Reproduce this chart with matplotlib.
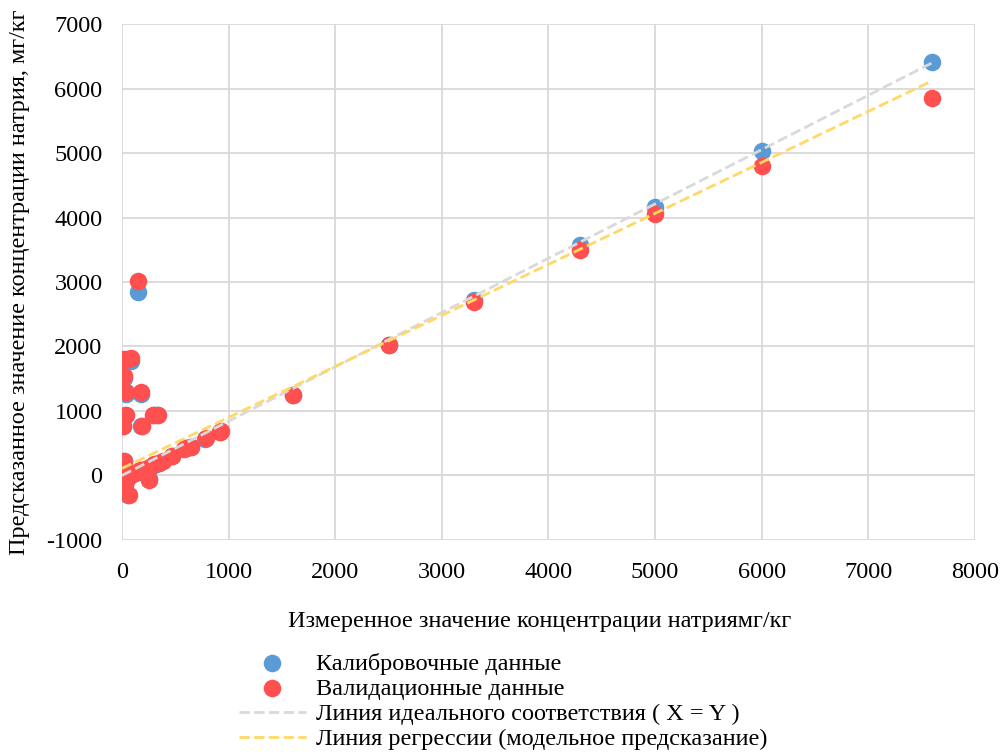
import matplotlib.pyplot as plt

plt.rcParams['font.family'] = ['Liberation Serif', 'DejaVu Serif']
plt.rcParams['axes.unicode_minus'] = False

# calibration set (measured, predicted), mg/kg
calib_x = [7600, 6000, 5000, 4300, 3300, 2500, 1600, 150, 20, 80, 15, 40, 180, 30, 10,
           180, 300, 330, 920, 780, 650, 600, 470, 350, 300, 250, 200, 150, 100, 60,
           30, 10, 20, 60, 250, 20, 10]
calib_y = [6410, 5030, 4170, 3570, 2720, 2020, 1250, 2840, 1760, 1770, 1510, 1270, 1270,
           940, 770, 770, 930, 930, 680, 570, 440, 420, 300, 200, 160, 120, 80, 50, 20,
           -20, -80, -150, -200, -300, -60, 230, 50]

# validation set
valid_x = [7600, 6000, 5000, 4300, 3300, 2500, 1600, 150, 20, 60, 85, 15, 40, 180, 40,
           10, 190, 290, 340, 920, 930, 790, 650, 600, 580, 470, 380, 350, 300, 260,
           240, 200, 170, 140, 110, 90, 60, 40, 20, 10, 5, 15, 30, 70, 250, 20, 10, 5,
           25, 50, 0, 5]
valid_y = [5850, 4800, 4050, 3490, 2690, 2020, 1250, 3010, 1800, 1810, 1820, 1550, 1290,
           1290, 940, 770, 770, 930, 930, 680, 690, 574, 440, 430, 410, 300, 220, 190,
           170, 130, 110, 90, 80, 60, 40, 20, 10, -10, -40, -90, -130, -200, -170, -310,
           -70, 230, 80, 20, -20, -60, -150, -100]

# reference line and regression fit of predicted on measured
ideal_x = [0, 7600]
ideal_y = [0, 6400]
reg_x = [0, 7600]
reg_y = [110, 6120]

fig = plt.figure(figsize=(10.01, 7.52), dpi=100)
ax = fig.add_axes([0.1219, 0.282, 0.852, 0.686])

ax.scatter(calib_x, calib_y, s=135, color='#5b9bd5', zorder=3,
           label='Калибровочные данные')
ax.scatter(valid_x, valid_y, s=135, color='#ff4f4f', zorder=4,
           label='Валидационные данные')
ax.plot(ideal_x, ideal_y, '--', color='#d9d9d9', lw=2, zorder=5,
        label='Линия идеального соответствия ( X = Y )')
ax.plot(reg_x, reg_y, '--', color='#ffd966', lw=2, zorder=6,
        label='Линия регрессии (модельное предсказание)')

ax.set_xlim(0, 8000)
ax.set_ylim(-1000, 7000)
ax.set_xticks(range(0, 8001, 1000))
ax.set_yticks(range(-1000, 7001, 1000))
ax.grid(True, color='#d9d9d9', lw=1.3)
ax.set_axisbelow(True)
for s in ax.spines.values():
    s.set_visible(False)
ax.axhline(0, color='#d9d9d9', lw=1.3, zorder=1)
ax.tick_params(length=0, labelsize=17.5)
ax.tick_params(axis='x', pad=16)
ax.tick_params(axis='y', pad=14)

ax.set_xlabel('Измеренное значение концентрации натриямг/кг', fontsize=17.5, labelpad=20)
ax.xaxis.label.set_x(0.49)
ax.set_ylabel('Предсказанное значение концентрации натрия, мг/кг', fontsize=17.5, labelpad=12)

fig.legend(loc='upper left', bbox_to_anchor=(0.229, 0.145), frameon=False,
           fontsize=17.5, handlelength=2.75, handletextpad=0.4, labelspacing=0.13,
           borderaxespad=0)

fig.savefig('out.png', dpi=100)
